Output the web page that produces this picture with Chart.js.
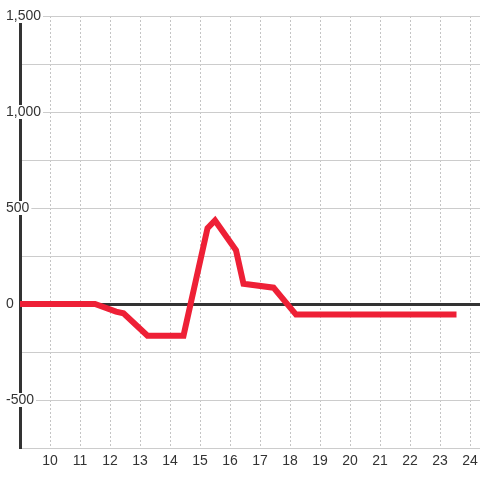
<!DOCTYPE html>
<html>
<head>
<meta charset="utf-8">
<script src="https://cdn.jsdelivr.net/npm/chart.js@4"></script>
<style>
  html, body { margin: 0; padding: 0; background: #fff; }
  #wrap { width: 480px; height: 480px; }
</style>
</head>
<body>
<div id="wrap"><canvas id="chart"></canvas></div>
<script>
// values
var hours = [8.9, 11.5, 12.2, 12.45, 13.25, 14.45, 15.25, 15.5, 16.2, 16.45, 17.45, 18.2, 23.55];
var values = [0, 0, -40, -48, -165, -165, 395, 435, 280, 105, 85, -55, -55];
var xMin = 9, xMax = 24.333;
var yMin = -750, yMax = 1500;
var yLabelStep = 500;

var points = [];
for (var i = 0; i < hours.length; i++) {
    points.push({ x: hours[i], y: values[i] });
}

var tickFont = { family: '"Liberation Sans", Arial, sans-serif', size: 14, lineHeight: 1 };

const config = {
    type: 'line',
    data: {
        datasets: [{
            data: points,
            borderColor: '#ee2036',
            borderWidth: 6,
            borderCapStyle: 'butt',
            borderJoinStyle: 'miter',
            pointRadius: 0,
            tension: 0,
            fill: false
        }]
    },
    options: {
        animation: false,
        responsive: true,
        maintainAspectRatio: false,
        layout: { padding: { top: 16, left: 0, right: 0, bottom: 0 } },
        plugins: {
            legend: { display: false },
            tooltip: { enabled: false }
        },
        scales: {
            x: {
                type: 'linear',
                min: xMin,
                max: xMax,
                afterFit: function (scale) {
                    scale.height = 32;
                    scale.paddingLeft = 0;
                    scale.paddingRight = 0;
                },
                ticks: {
                    stepSize: 1,
                    includeBounds: false,
                    autoSkip: false,
                    maxRotation: 0,
                    padding: 5,
                    color: '#333',
                    font: { family: tickFont.family, size: 14 },
                    callback: function (v) { return v === xMin ? '' : v; }
                },
                grid: { color: '#c4c4c4', drawTicks: false },
                border: { display: false, dash: [2, 2] }
            },
            y: {
                min: yMin,
                max: yMax,
                afterFit: function (scale) { scale.width = 20; },
                ticks: {
                    stepSize: 250,
                    mirror: true,
                    padding: -14,
                    color: '#333',
                    font: tickFont,
                    showLabelBackdrop: function (c) { return c.tick.value % yLabelStep === 0; },
                    backdropColor: '#fff',
                    backdropPadding: { x: 2, y: 0 },
                    callback: function (v) { return v % yLabelStep === 0 ? v.toLocaleString('en-US') : ''; }
                },
                grid: {
                    drawTicks: false,
                    color: function (c) { return c.tick.value === 0 ? '#333' : '#ccc'; },
                    lineWidth: function (c) { return c.tick.value === 0 ? 3 : 1; }
                },
                border: { color: '#333', width: 3 }
            }
        }
    }
};

new Chart(document.getElementById('chart'), config);
</script>
</body>
</html>
